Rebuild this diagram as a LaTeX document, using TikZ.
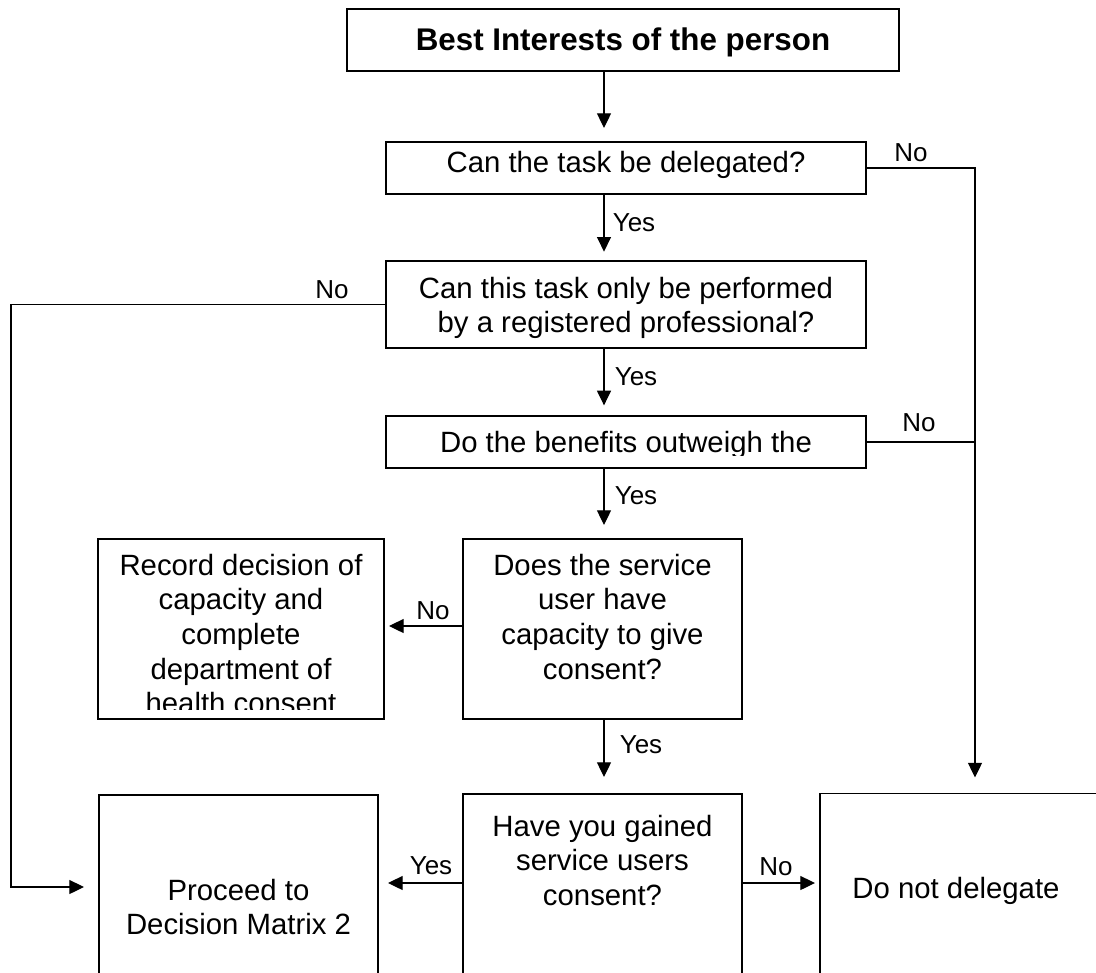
\documentclass[tikz,border=0pt]{standalone}
\usepackage{fontspec}
\setmainfont{Liberation Sans}
\usetikzlibrary{arrows.meta}
\begin{document}
\begin{tikzpicture}[x=0.75pt,y=-0.75pt,
  boxstyle/.style={draw=black, line width=0.9pt, inner sep=0pt, outer sep=0pt},
  txt/.style={inner sep=0pt, outer sep=0pt, align=center, font=\fontsize{22}{26}\selectfont},
  lbl/.style={inner sep=0pt, anchor=base, font=\fontsize{19.5}{22}\selectfont},
  arr/.style={draw=black, line width=0.9pt, -{Triangle[length=11pt,width=10.5pt]}},
  conn/.style={draw=black, line width=0.9pt}
]
\useasboundingbox (0,0) rectangle (1096,972);
\fill[white] (0,0) rectangle (1096,972);
\clip (0,0) rectangle (1096,972);

% boxes
\node[boxstyle, minimum width=414pt, minimum height=46.5pt] (T) at (623,40) {};
\node[txt, anchor=base, font=\fontsize{23.5}{28}\selectfont\bfseries] (Tt) at (623,50) {Best Interests of the person};

\node[boxstyle, minimum width=360pt, minimum height=39pt] (B2) at (626,168) {};
\node[txt, anchor=base] (B2t) at (626,172) {Can the task be delegated?};

\node[boxstyle, minimum width=360pt, minimum height=65.25pt] (B3) at (626,304.5) {};
\node[txt, anchor=north] (B3t) at (626,277) {Can this task only be performed\\by a registered professional?};

\node[boxstyle, minimum width=360pt, minimum height=39pt] (B4) at (626,442) {};
\begin{scope}
  \clip (386,416) rectangle (866,455.5);
  \node[txt, anchor=base] (B4t) at (626,452) {Do the benefits outweigh the};
\end{scope}

\node[boxstyle, minimum width=209.25pt, minimum height=135pt] (B5) at (602.5,629) {};
\node[txt, anchor=north] (B5t) at (602.5,554) {Does the service\\user have\\capacity to give\\consent?};

\node[boxstyle, minimum width=214.5pt, minimum height=135pt] (B6) at (241,629) {};
\begin{scope}
  \clip (98,539) rectangle (384,709);
  \node[txt, anchor=north] (B6t) at (241,554) {Record decision of\\capacity and\\complete\\department of\\health consent};
\end{scope}

\node[boxstyle, minimum width=209.25pt, minimum height=177pt] (B7) at (602.5,912) {};
\node[txt, anchor=north] (B7t) at (602.5,815) {Have you gained\\service users\\consent?};

\node[boxstyle, minimum width=209.25pt, minimum height=176.25pt] (B8) at (238.5,912.5) {};
\node[txt, anchor=north] (B8t) at (238.5,879) {Proceed to\\Decision Matrix 2};

\node[boxstyle, minimum width=210pt, minimum height=177pt] (B9) at (960,911.5) {};
\node[txt, anchor=base] (B9t) at (956,898) {Do not delegate};

% helper coordinates
\coordinate (ax) at (604,0);
\coordinate (rx) at (975,0);
\coordinate (lc) at (11,887);
\coordinate (ny) at (0,626);
\coordinate (hy) at (0,883);

% connectors
\draw[arr, shorten >=10.5pt] (T.south -| ax) -- (B2.north -| ax);
\draw[arr, shorten >=7pt] (B2.south -| ax) -- (B3.north -| ax);
\draw[arr, shorten >=8pt] (B3.south -| ax) -- (B4.north -| ax);
\draw[arr, shorten >=10.5pt] (B4.south -| ax) -- (B5.north -| ax);
\draw[arr, shorten >=12.75pt] (B5.south -| ax) -- (B7.north -| ax);
\draw[arr, shorten >=12pt] (B2.east) -| (B9.north -| rx);
\draw[conn] (B4.east) -- (B4.east -| rx);
\draw[arr, shorten >=11.25pt] (B3.west) -| (lc) -- (B8.west |- lc);
\draw[arr, shorten >=3.75pt] (B5.west |- ny) -- (B6.east |- ny);
\draw[arr, shorten >=7.5pt] (B7.west |- hy) -- (B8.east |- hy);
\draw[arr, shorten >=3.75pt] (B7.east |- hy) -- (B9.west |- hy);

% labels
\node[lbl] (n1) at (911,161) {No};
\node[lbl] (y1) at (634,231) {Yes};
\node[lbl] (n2) at (332,298) {No};
\node[lbl] (y2) at (636,385) {Yes};
\node[lbl] (n3) at (919,431) {No};
\node[lbl] (y3) at (636,504) {Yes};
\node[lbl] (n4) at (433,619) {No};
\node[lbl] (y4) at (641,753) {Yes};
\node[lbl] (y5) at (431,874) {Yes};
\node[lbl] (n5) at (776,875) {No};
\end{tikzpicture}
\end{document}
